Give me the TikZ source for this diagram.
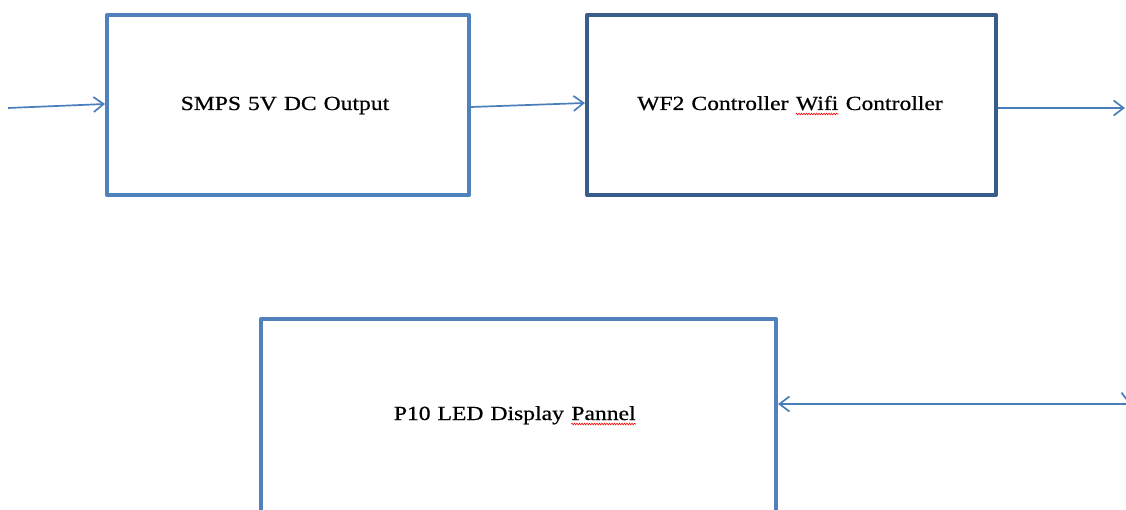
\documentclass[tikz,border=0pt]{standalone}
\usepackage{fontspec}
\setmainfont{Liberation Serif}[FakeStretch=1.18,FakeBold=0.7]
\usetikzlibrary{arrows.meta,decorations.pathmorphing}
\definecolor{boxblue}{HTML}{4F81BD}
\definecolor{boxdark}{HTML}{385D8A}
\definecolor{lineblue}{HTML}{4A7EBB}
\newcommand\lbfont{\fontsize{20}{24}\selectfont\spaceskip=7pt\relax}
\newcommand\redwave[2]{\tikz[baseline=(#2.base),x=1cm,y=1cm]{\node[inner sep=0pt,anchor=base] (#2) {#1};
  \draw[red,line width=0.6pt,decorate,decoration={snake,amplitude=0.8pt,segment length=2.5pt}] ([yshift=-4pt]#2.base west) -- ([yshift=-4pt]#2.base east);}}
\begin{document}
\begin{tikzpicture}[x=1pt,y=-1pt,
  box/.style={draw=boxblue,line width=4pt,line join=round,inner sep=0pt},
  label text/.style={font=\lbfont,anchor=base,inner sep=0pt},
  conn/.style={draw=lineblue,line width=1.7pt,-{Straight Barb[length=10pt,width=15pt]}},
  conn2/.style={draw=lineblue,line width=1.7pt,{Straight Barb[length=10pt,width=15pt]}-}]
\useasboundingbox (0,0) rectangle (1126,510);
\clip (0,0) rectangle (1126,510);
\node[box,minimum width=362pt,minimum height=180pt] (smps) at (288,105) {};
\node[box,draw=boxdark,minimum width=409pt,minimum height=180pt] (wf2) at (791.5,105) {};
\node[box,minimum width=515pt,minimum height=221pt] (p10) at (518.5,429.5) {};
\node[label text] (t1) at (285,110) {SMPS 5V DC Output};
\node[label text] (t2) at (790,110) {WF2 Controller \redwave{Wifi}{wifiw} Controller};
\node[label text] (t3) at (515,420) {P10 LED Display \redwave{Pannel}{pannelw}};
\coordinate (in) at (8,108);
\coordinate (out) at (1125,108);
\coordinate (r2) at (1140,404);
\coordinate (vtop) at (1129,300);
\coordinate (vend) at (1129,404);
\draw[conn] (in) -- ([yshift=1pt]smps.west);
\draw[conn] ([yshift=-2pt]smps.east) -- ([yshift=2pt]wf2.west);
\draw[conn] ([yshift=-3pt]wf2.east) -- (out);
\draw[conn2] (p10.east |- r2) -- (r2);
\draw[conn] (vtop) -- (vend);
\end{tikzpicture}
\end{document}
